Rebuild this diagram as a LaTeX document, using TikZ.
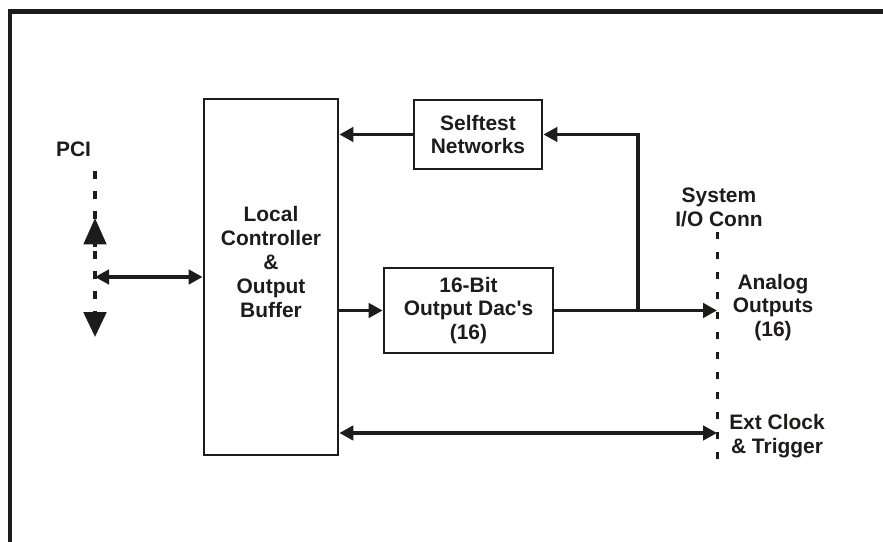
\documentclass[tikz,border=0pt]{standalone}
\usepackage{fontspec}
\setmainfont{Liberation Sans}
\usetikzlibrary{arrows.meta, positioning, calc}
\definecolor{Ink}{HTML}{1E1B1B}

\begin{document}
\begin{tikzpicture}[
    font=\bfseries\fontsize{14.9}{17}\selectfont, text=Ink,
    link/.style={-{Triangle[length=3.5mm,width=3.6mm]}, line width=2.4pt, draw=Ink},
    dlink/.style={{Triangle[length=3.5mm,width=3.6mm]}-{Triangle[length=3.5mm,width=3.6mm]}, line width=2.4pt, draw=Ink},
    bus/.style={draw=Ink, line width=2.6pt, dash pattern=on 1.9mm off 3.1mm},
    bustip/.style={-{Triangle[length=6.6mm,width=5.6mm]}, draw=Ink, line width=2.6pt},
    block/.style={draw=Ink, line width=2pt, align=center, inner sep=0pt},
    lbl/.style={align=center, inner sep=0pt}
  ]
  \useasboundingbox (0,0) rectangle (22.075,13.55);
  % frame
  \draw[draw=Ink, line width=3.2pt] (0.25,0) -- (0.25,13.2625) -- (22.075,13.2625);

  % blocks
  \node[block, minimum width=3.35cm, minimum height=8.9cm] (local) at (6.775,6.625) {};
  \node[lbl] (localtxt) at (6.775,7.0) {Local\\Controller\\\&\\Output\\Buffer};
  \node[block, minimum width=3.2cm, minimum height=1.725cm] (selftest) at (11.95,10.1875) {Selftest\\Networks};
  \node[block, minimum width=4.225cm, minimum height=2.125cm] (dac) at (11.7125,5.7875) {16-Bit\\Output Dac\textquotesingle s\\(16)};

  % bus lines
  \coordinate (pcitop) at (2.375,9.275);
  \coordinate (pcibot) at (2.375,5.125);
  \coordinate (pciup) at (2.375,8.1);
  \coordinate (pciupbase) at (2.375,7.375);
  \coordinate (iotop) at (17.94,7.7575);
  \coordinate (iobot) at (17.94,2.05);
  \coordinate (aout) at (17.925,5.7875);
  \coordinate (clk) at (17.925,2.725);
  \coordinate (tap) at (15.95,5.7875);

  \draw[bus] (iotop) -- (iobot);
  \draw[bus, -{Triangle[length=6.2mm,width=5.6mm]}] (pcitop) -- (pcibot);
  \draw[bustip] (pciupbase) -- (pciup);

  % labels
  \node[lbl] (pcilbl) at (1.8375,9.8125) {PCI};
  \node[lbl] (iolbl) at (17.975,8.375) {System\\I/O Conn};
  \node[lbl] (aolbl) at (19.325,5.8625) {Analog\\Outputs\\(16)};
  \node[lbl] (clklbl) at (19.425,2.65) {Ext Clock\\\& Trigger};

  % connectors
  \draw[dlink] (pcitop |- local.west) -- (local.west);
  \draw[link] (selftest.west) -- (selftest.west -| local.east);
  \draw[link] (local.east |- dac.west) -- (dac.west);
  \draw[link] (dac.east) -- (aout);
  \draw[link] (tap) |- (selftest.east);
  \draw[dlink] (local.east |- clk) -- (clk);
\end{tikzpicture}
\end{document}
